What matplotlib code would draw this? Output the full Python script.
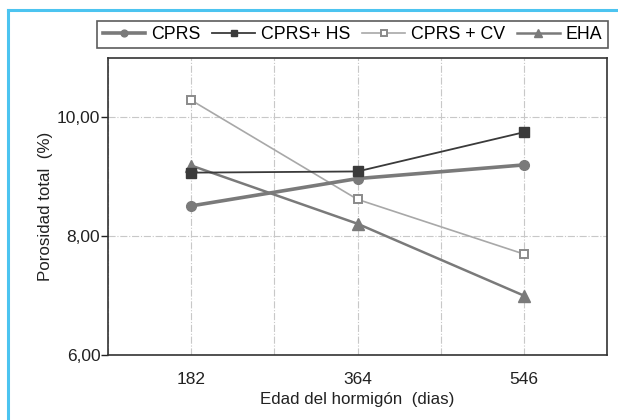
import matplotlib
matplotlib.use("Agg")
import matplotlib.pyplot as plt
from matplotlib.lines import Line2D
from matplotlib.ticker import FuncFormatter, MultipleLocator

plt.rcParams["font.family"] = ["Liberation Sans", "DejaVu Sans"]

# porosidad total (%) por edad del hormigón
edades = [182, 364, 546]
cprs = [8.51, 8.97, 9.20]
cprs_hs = [9.07, 9.09, 9.75]
cprs_cv = [10.29, 8.62, 7.70]
eha = [9.19, 8.21, 7.00]

fig = plt.figure(figsize=(6.18, 4.2), dpi=100)
ax = fig.add_axes([108 / 618, 65 / 420, 499 / 618, 297 / 420])

ax.plot(edades, cprs, color="#7a7a7a", lw=2.6, marker="o", ms=7,
        label="CPRS", zorder=4)
ax.plot(edades, cprs_hs, color="#3a3a3a", lw=1.3, marker="s", ms=6.5,
        label="CPRS+ HS", zorder=5)
ax.plot(edades, cprs_cv, color="#a8a8a8", lw=1.2, marker="s", ms=6,
        mfc="white", mec="#8a8a8a", mew=1.4, label="CPRS + CV", zorder=3)
ax.plot(edades, eha, color="#7a7a7a", lw=1.8, marker="^", ms=9,
        label="EHA", zorder=4)

ax.set_xlim(91, 637)
ax.set_ylim(6, 11)
ax.set_xticks(edades)
ax.xaxis.set_minor_locator(MultipleLocator(91))
ax.yaxis.set_major_locator(MultipleLocator(2))
ax.yaxis.set_major_formatter(FuncFormatter(lambda v, p: f"{v:.2f}".replace(".", ",")))

ax.grid(True, which="both", axis="x", color="#c8c8c8", ls="-.", lw=0.8)
ax.grid(True, which="major", axis="y", color="#c8c8c8", ls="-.", lw=0.8)
ax.tick_params(axis="x", which="both", length=0, labelsize=12.5, pad=12, colors="#222222")
ax.tick_params(axis="y", length=5, width=1, labelsize=12.5, pad=0.5, colors="#222222")
for s in ax.spines.values():
    s.set_color("#333333")
    s.set_linewidth(1.2)

ax.set_xlabel("Edad del hormigón  (dias)", fontsize=12.2, color="#222222", labelpad=4)
ax.set_ylabel("Porosidad total  (%)", fontsize=12.2, color="#222222", labelpad=3)

leg = ax.legend(loc="lower center", bbox_to_anchor=(0.49, 1.0), ncol=4,
                frameon=True, fancybox=False, fontsize=12.8, handlelength=2.4,
                columnspacing=0.65, handletextpad=0.35, borderpad=0.3,
                borderaxespad=0.55, markerscale=0.7)
leg.get_frame().set_edgecolor("#333333")
leg.get_frame().set_linewidth(1.2)

# marco celeste
fig.add_artist(Line2D([8 / 618, 1.0], [1 - 10 / 420, 1 - 10 / 420],
                      color="#4cc4f0", lw=2.2, transform=fig.transFigure))
fig.add_artist(Line2D([8 / 618, 8 / 618], [0, 1 - 10 / 420],
                      color="#4cc4f0", lw=2.2, transform=fig.transFigure))

fig.savefig("out.png", dpi=100)
